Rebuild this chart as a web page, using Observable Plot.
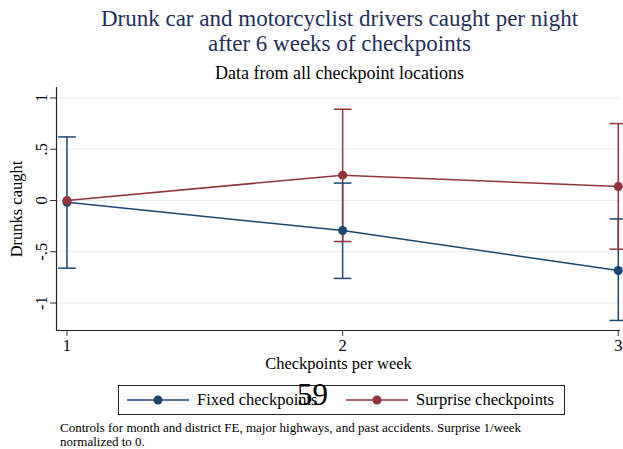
<!DOCTYPE html>
<html><head><meta charset="utf-8">
<script src="https://cdn.jsdelivr.net/npm/d3@7"></script>
<script src="https://cdn.jsdelivr.net/npm/@observablehq/plot@0.6"></script>
<style>
html,body{margin:0;padding:0;background:#fff;}
#wrap{position:relative;width:623px;height:449px;overflow:hidden;font-family:"Liberation Serif","Times New Roman",serif;}
.abs{position:absolute;white-space:nowrap;}
#title{left:56px;width:567px;top:6px;text-align:center;color:#1f2f5c;font-size:23px;line-height:25px;}
#subtitle{left:56px;width:567px;top:63px;text-align:center;color:#000;font-size:18px;line-height:20px;}
#chart{left:0;top:80px;}
#legend{left:118px;top:385px;width:445px;height:28px;border:1px solid #222;}
.li{position:absolute;top:0;height:28px;display:flex;align-items:center;font-size:16.5px;color:#000;}
#n59{left:297px;top:378px;font-size:31px;line-height:34px;color:#000;}
#caption{left:60px;top:421px;font-size:13px;line-height:14px;color:#000;}
</style></head>
<body><div id="wrap">
<div id="title" class="abs">Drunk car and motorcyclist drivers caught per night<br>after 6 weeks of checkpoints</div>
<div id="subtitle" class="abs">Data from all checkpoint locations</div>
<div id="chart" class="abs"></div>
<div id="legend" class="abs"></div>
<div id="n59" class="abs">59</div>
<div id="caption" class="abs">Controls for month and district FE, major highways, and past accidents. Surprise 1/week<br>normalized to 0.</div>
</div>
<script>
// ---- data ----
const weeks = [1, 2, 3];
const seriesNames = ["Fixed checkpoints", "Surprise checkpoints"];
const fixedCoef = [-0.017, -0.293, -0.683];
const fixedLo   = [-0.66, -0.76, -1.17];
const fixedHi   = [0.62, 0.17, -0.18];
const surpriseCoef = [0, 0.247, 0.137];
const surpriseLo   = [null, -0.40, -0.475];
const surpriseHi   = [null, 0.89, 0.75];
const yTicks = [-1, -0.5, 0, 0.5, 1];
const yTickLabels = ["-1", "-.5", "0", ".5", "1"];
const xTicks = [1, 2, 3];

const colors = {"Fixed checkpoints": "#1a476f", "Surprise checkpoints": "#90353b"};

const rows = [];
weeks.forEach((w, i) => {
  rows.push({series: seriesNames[0], x: w, y: fixedCoef[i], lo: fixedLo[i], hi: fixedHi[i]});
  rows.push({series: seriesNames[1], x: w, y: surpriseCoef[i], lo: surpriseLo[i], hi: surpriseHi[i]});
});
const ciRows = rows.filter(d => d.lo != null);
const capRows = ciRows.flatMap(d => [{...d, v: d.lo}, {...d, v: d.hi}]);
const fixedRows = rows.filter(d => d.series === seriesNames[0]);
const surpRows = rows.filter(d => d.series === seriesNames[1]);

const capSymbol = {draw(ctx, size) { const w = Math.sqrt(size); ctx.moveTo(-w, 0); ctx.lineTo(w, 0); }};

const xDomain = [0.962, 3.008];
const yDomain = [-1.268, 1.102];

const plot = Plot.plot({
  width: 623, height: 300,
  marginTop: 7, marginBottom: 50, marginLeft: 56, marginRight: 3,
  style: {fontFamily: "Liberation Serif, serif", fontSize: "16.5px", background: "transparent", overflow: "visible", color: "#000"},
  x: {domain: xDomain},
  y: {domain: yDomain},
  marks: [
    Plot.gridY(yTicks, {stroke: "#e6eef0", strokeOpacity: 1, strokeWidth: 1}),
    Plot.axisY(yTicks, {tickFormat: (d) => yTickLabels[yTicks.indexOf(d)], tickRotate: -90, tickSize: 6, tickPadding: 4,
      label: "Drunks caught", labelAnchor: "center", labelArrow: "none", labelOffset: 46, stroke: "#333"}),
    Plot.axisX(xTicks, {tickFormat: d => String(d), tickSize: 6, tickPadding: 3,
      label: "Checkpoints per week", labelAnchor: "center", labelArrow: "none", labelOffset: 38, stroke: "#333"}),
    Plot.ruleX([xDomain[0]], {stroke: "#222", strokeWidth: 1.2}),
    Plot.ruleY([yDomain[0]], {stroke: "#222", strokeWidth: 1.2}),
    Plot.ruleX(ciRows, {x: "x", y1: "lo", y2: "hi", stroke: d => colors[d.series], strokeWidth: 1.5}),
    Plot.dot(capRows, {x: "x", y: "v", symbol: capSymbol, r: 5, stroke: d => colors[d.series], strokeWidth: 1.5}),
    Plot.line(fixedRows, {x: "x", y: "y", stroke: colors[seriesNames[0]], strokeWidth: 1.5}),
    Plot.dot(fixedRows, {x: "x", y: "y", r: 4.5, fill: colors[seriesNames[0]], stroke: "none"}),
    Plot.line(surpRows, {x: "x", y: "y", stroke: colors[seriesNames[1]], strokeWidth: 1.5}),
    Plot.dot(surpRows, {x: "x", y: "y", r: 4.5, fill: colors[seriesNames[1]], stroke: "none"})
  ]
});
document.getElementById("chart").appendChild(plot);

// legend
const leg = document.getElementById("legend");
const items = [{name: seriesNames[0], left: 7, text: 78}, {name: seriesNames[1], left: 226, text: 297}];
items.forEach(it => {
  const s = document.createElementNS("http://www.w3.org/2000/svg", "svg");
  s.setAttribute("width", 64); s.setAttribute("height", 28);
  s.style.position = "absolute"; s.style.left = it.left + "px"; s.style.top = "0px";
  s.innerHTML = `<line x1="1" x2="63" y1="14" y2="14" stroke="${colors[it.name]}" stroke-width="1.5"/><circle cx="32" cy="14" r="4.5" fill="${colors[it.name]}"/>`;
  leg.appendChild(s);
  const t = document.createElement("div");
  t.className = "li"; t.style.left = it.text + "px"; t.textContent = it.name;
  leg.appendChild(t);
});
</script>
</body></html>
